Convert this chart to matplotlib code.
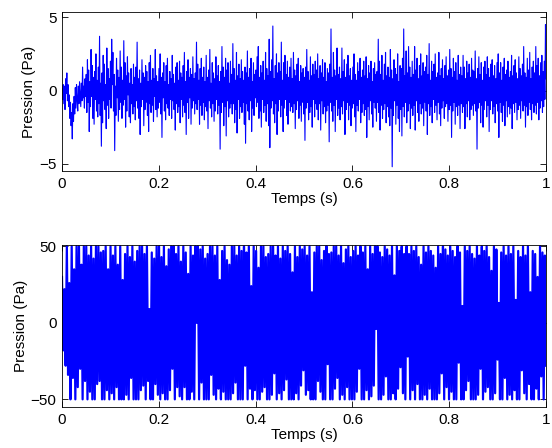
import numpy as np
import matplotlib
matplotlib.use("Agg")
import matplotlib.pyplot as plt

plt.rcParams['font.family'] = ['Liberation Sans', 'DejaVu Sans']

p_top = [
    0.1, -0.6, 0.4, -0.9, 0.3, -1.3, 0.8, -0.2, 1.2, -0.7, 0.4, -1.1, -0.3, -1.9, -0.8, -2.4, -1.5, -3.3, -0.9, -2.1,
    -0.4, -1.6, 0.2, -1.2, 0.4, -0.6, -1.4, 0.3, -0.9, 0.6, -0.3, -1.1, 0.5, -0.7, 1.6, -0.5, 0.3, -1.2, 0.8, -0.4,
    1.1, -1.5, 2.1, -0.8, 1.4, -2.8, 0.6, -1.1, 2.8, -0.4, 1.7, -1.9, 0.9, -2.3, 1.3, -0.6, 2.5, -1.4, 0.7, -1.8,
    1.6, -0.9, 3.7, -1.7, 0.5, -3.8, 1.2, -2.2, 2.4, -0.7, 1.8, -1.3, 0.4, -2.6, 2.9, -1.0, 1.5, -1.9, 0.8, -0.6,
    2.0, -1.2, 3.5, 0.4, 2.6, -1.4, 1.1, -4.1, 0.3, -1.7, 2.2, -0.5, 1.4, -2.1, 0.9, -1.3, 2.7, -0.8, 1.6, -1.9,
    0.7, -1.0, 3.4, -0.6, 1.9, -2.5, 1.0, -1.4, 2.3, -0.3, 1.2, -1.8, 0.5, -2.2, 1.5, -0.9, 0.4, -1.6, 1.8, -1.1,
    0.9, -2.0, 1.6, -0.7, 3.3, -1.2, 0.8, -1.9, 1.4, -3.0, 0.5, -1.1, 2.1, -0.6, 1.2, -2.4, 0.9, -1.3, 1.7, -0.8,
    1.3, -1.7, 0.6, -2.8, 1.9, -0.9, 2.4, -1.5, 0.7, -1.0, 1.5, -2.1, 0.8, -0.4, 2.8, -1.3, 1.0, -1.8, 0.6, -1.2,
    1.5, -0.8, 2.5, -1.6, 0.9, -3.2, 1.2, -0.5, 1.9, -1.4, 0.6, -2.0, 1.7, -0.9, 2.2, -1.2, 0.4, -1.7, 1.3, -0.6,
    0.8, -1.9, 2.4, -0.7, 1.1, -1.3, 0.5, -2.7, 1.6, -0.9, 1.9, -1.5, 0.7, -1.1, 2.0, -2.2, 1.2, -0.6, 0.9, -1.8,
    1.7, -1.0, 2.6, -1.5, 0.6, -3.0, 1.3, -0.8, 2.1, -1.9, 0.9, -0.5, 1.5, -2.3, 1.1, -1.2, 2.3, -0.7, 0.8, -1.6,
    1.2, -0.9, 3.3, -1.3, 1.8, -0.6, 0.7, -2.3, 1.5, -1.0, 2.2, -1.7, 0.9, -0.8, 1.6, -2.0, 0.6, -1.1, 2.4, -1.4,
    0.9, -2.6, 1.4, -0.7, 2.8, -1.2, 0.5, -1.8, 1.9, -0.9, 1.2, -2.1, 0.8, -1.4, 2.3, -0.6, 1.0, -1.6, 1.7, -1.0,
    0.6, -4.0, 1.3, -1.5, 3.0, -0.8, 1.6, -2.4, 0.9, -1.1, 2.2, -3.1, 1.4, -0.7, 1.9, -1.8, 0.5, -1.2, 2.0, -0.9,
    1.1, -1.6, 3.2, -0.9, 1.5, -2.2, 0.7, -1.3, 2.6, -2.9, 1.0, -0.6, 1.8, -1.9, 0.8, -1.1, 2.1, -1.5, 1.3, -0.8,
    0.7, -2.3, 1.6, -3.6, 1.2, -0.9, 2.7, -1.4, 0.9, -2.0, 1.5, -0.7, 2.2, -2.8, 0.6, -1.2, 1.9, -1.7, 1.1, -0.5,
    1.4, -1.1, 2.3, -0.8, 3.0, -1.9, 0.9, -1.4, 1.7, -2.5, 1.2, -0.6, 2.0, -1.5, 0.7, -1.0, 2.6, -2.1, 1.5, -0.9,
    1.0, -2.4, 3.5, -3.9, 1.3, -1.2, 2.1, -0.7, 4.4, -1.6, 0.8, -2.2, 1.7, -0.9, 2.5, -3.0, 1.2, -1.4, 1.9, -0.6,
    1.3, -1.8, 3.3, -1.0, 0.7, -2.8, 1.9, -1.2, 2.4, -0.6, 1.1, -1.7, 2.0, -2.3, 0.9, -0.8, 1.6, -1.4, 2.2, -1.1,
    0.8, -1.5, 2.6, -0.9, 1.4, -2.6, 1.0, -1.3, 1.8, -0.7, 2.2, -1.9, 0.6, -1.0, 1.7, -2.1, 1.2, -0.8, 1.5, -1.6,
    0.9, -3.4, 1.6, -1.2, 2.8, -0.8, 1.3, -2.0, 0.7, -1.5, 2.3, -1.1, 1.0, -2.5, 1.8, -0.6, 1.1, -1.8, 2.0, -0.9,
    1.4, -1.3, 2.5, -2.0, 0.8, -0.9, 1.7, -2.7, 1.2, -0.7, 2.1, -1.6, 0.9, -1.1, 1.9, -2.2, 0.6, -1.4, 1.5, -1.0,
    1.2, -3.5, 1.8, -0.8, 4.2, -1.4, 0.9, -2.1, 2.6, -1.0, 1.4, -2.8, 1.0, -0.6, 2.9, -1.7, 1.1, -1.2, 1.6, -2.0,
    0.8, -1.1, 2.9, -1.6, 1.3, -0.7, 2.1, -3.0, 0.9, -1.3, 1.8, -0.8, 2.4, -2.0, 1.0, -1.0, 1.5, -2.4, 0.7, -1.2,
    1.6, -0.9, 2.5, -1.8, 1.1, -2.8, 0.7, -1.0, 1.9, -1.4, 1.3, -0.6, 2.2, -2.2, 0.9, -1.5, 1.4, -0.9, 2.0, -1.7,
    1.0, -1.3, 2.3, -3.2, 0.8, -1.1, 1.7, -2.0, 1.2, -0.7, 2.0, -1.6, 0.6, -2.5, 1.5, -0.8, 1.9, -1.2, 1.1, -2.1,
    1.3, -0.8, 3.5, -1.5, 2.0, -2.7, 1.1, -1.0, 2.4, -1.9, 0.7, -1.3, 1.8, -0.9, 2.6, -2.2, 1.0, -1.1, 1.6, -1.8,
    0.9, -2.4, 2.8, -1.2, 1.4, -5.2, 0.8, -1.7, 2.1, -0.7, 1.5, -2.3, 1.1, -1.0, 2.5, -1.9, 0.6, -2.8, 1.7, -1.3,
    1.5, -3.1, 2.2, -1.1, 4.2, -1.8, 1.0, -0.8, 2.7, -2.2, 1.2, -1.4, 3.0, -0.9, 1.6, -2.6, 0.9, -1.2, 2.0, -1.7,
    1.1, -1.0, 3.0, -2.7, 1.4, -0.7, 2.2, -1.5, 0.8, -2.1, 1.7, -0.9, 2.5, -1.6, 1.0, -1.2, 1.9, -2.4, 1.3, -0.8,
    1.6, -1.4, 2.4, -3.0, 1.1, -0.9, 3.2, -1.7, 0.7, -1.1, 2.0, -2.2, 1.3, -0.6, 1.8, -1.5, 2.5, -1.0, 0.9, -2.0,
    1.2, -0.8, 2.6, -1.6, 1.0, -2.4, 1.5, -1.2, 2.1, -0.7, 0.8, -1.9, 1.7, -1.1, 2.3, -0.9, 1.0, -2.1, 1.4, -1.3,
    2.8, -1.0, 1.5, -3.2, 0.9, -1.4, 2.2, -0.8, 1.3, -2.3, 1.9, -1.1, 0.7, -1.7, 2.4, -1.0, 1.1, -2.6, 1.6, -0.9,
    1.0, -1.5, 2.4, -1.1, 1.6, -2.6, 0.8, -0.9, 2.0, -1.8, 1.2, -0.7, 1.8, -2.0, 0.9, -1.3, 2.2, -1.0, 1.4, -1.7,
    1.3, -0.9, 2.7, -1.4, 0.8, -4.0, 1.5, -1.2, 2.3, -0.8, 1.1, -2.2, 1.9, -1.0, 0.7, -2.5, 1.6, -1.3, 2.0, -0.7,
    1.1, -1.8, 2.3, -1.0, 1.5, -2.8, 0.9, -1.3, 1.8, -0.7, 2.1, -1.6, 1.0, -1.1, 1.7, -2.2, 0.8, -0.9, 1.9, -1.4,
    2.5, -3.2, 1.2, -0.8, 1.9, -1.5, 0.7, -2.1, 1.6, -1.0, 2.2, -2.4, 1.1, -0.7, 1.4, -1.8, 2.0, -1.1, 0.9, -1.6,
    1.3, -1.2, 2.4, -2.6, 1.0, -0.9, 1.7, -1.5, 2.1, -0.8, 1.2, -2.0, 0.8, -1.3, 2.3, -1.0, 1.5, -1.9, 1.0, -0.7,
    1.8, -1.4, 3.0, -1.0, 1.2, -2.5, 0.9, -1.1, 2.2, -1.7, 1.4, -0.8, 2.6, -1.3, 0.8, -2.0, 1.6, -0.9, 2.0, -1.5,
    1.2, -1.0, 3.0, -1.6, 1.7, -0.8, 2.2, -2.0, 1.0, -1.2, 1.9, -0.7, 2.4, -1.5, 1.3, -1.1, 2.0, -0.6, 4.5, 0.8,
]

# signal sature a +/-50 Pa (bas), 20 valeurs par tranche de 0.05 s
p_bot = [
    30, -18, 22, -28, 50, -34, 26, -50, 50, -36, 35, -50, 50, -42, 50, -30, 38, -50, 50, -38,
    50, -50, 44, -45, 50, -50, 42, -50, 50, -40, 50, -38, 46, -50, 47, -50, 50, -44, 35, -50,
    50, -46, 44, -50, 50, -42, 38, -50, 50, -50, 28, -50, 45, -47, 50, -50, 43, -36, 50, -50,
    40, -50, 47, -50, 50, -44, 50, -41, 45, -50, 50, -38, 9, -50, 46, -50, 42, -40, 50, -47,
    50, -50, 43, -46, 50, -50, 37, -50, 48, -44, 50, -30, 50, -50, 45, -42, 50, -48, 40, -50,
    50, -42, 46, -50, 32, -50, 50, -45, 44, -50, 50, 0, 50, -50, 48, -39, 50, -50, 42, -50,
    45, -50, 50, -34, 50, -47, 44, -50, 50, -43, 28, -50, 47, -45, 50, -50, 41, -50, 38, -50,
    50, -46, 50, -39, 44, -50, 50, -50, 47, -50, 50, -28, 46, -50, 50, -43, 24, -50, 50, -44,
    47, -50, 36, -50, 50, -45, 50, -42, 43, -50, 45, -50, 50, -47, 50, -33, 44, -50, 50, -46,
    42, -50, 50, -44, 47, -37, 50, -50, 45, -50, 33, -50, 50, -46, 43, -50, 50, -41, 48, -31,
    50, -47, 44, -44, 50, -50, 20, -50, 46, -50, 50, -38, 50, -45, 41, -50, 47, -50, 50, -27,
    45, -50, 46, -50, 50, -43, 50, -36, 44, -50, 50, -47, 39, -50, 48, -42, 50, -50, 43, -50,
    47, -50, 50, -45, 44, -30, 50, -50, 46, -50, 50, -44, 35, -50, 50, -48, 45, -41, 50, -4,
    50, -50, 46, -50, 43, -47, 50, -35, 48, -50, 44, -50, 50, -46, 31, -50, 50, -43, 47, -29,
    50, -46, 45, -50, 50, -22, 45, -50, 50, -44, 47, -50, 50, -40, 43, -50, 38, -50, 50, -47,
    46, -50, 50, -43, 47, -50, 44, -50, 36, -50, 50, -46, 45, -33, 50, -50, 48, -42, 44, -50,
    50, -45, 47, -50, 43, -50, 50, -26, 46, -50, 11, -50, 50, -44, 47, -38, 50, -50, 45, -50,
    42, -50, 50, -47, 44, -30, 50, -50, 47, -45, 50, -42, 43, -50, 34, -50, 50, -46, 48, -24,
    13, -50, 46, -50, 50, -36, 44, -50, 50, -47, 45, -50, 50, -44, 15, -50, 47, -50, 43, -31,
    50, -46, 44, -50, 50, -40, 20, -50, 47, -50, 45, -43, 30, -50, 50, -35, 46, -50, 44, -28,
]

t_top = np.linspace(0, 1, len(p_top))
t_bot = np.linspace(0, 1, len(p_bot))

fig = plt.figure(figsize=(5.52, 4.48), dpi=100)
ax1 = fig.add_axes([0.1123, 0.618, 0.877, 0.355])
ax2 = fig.add_axes([0.1123, 0.0915, 0.877, 0.362])

ax1.plot(t_top, p_top, color=(0, 0, 1), lw=0.8)
ax1.set_ylim(-5.5, 5.35)
ax1.set_yticks([-5, 0, 5])

ax2.plot(t_bot, p_bot, color=(0, 0, 1), lw=1.6)
ax2.set_ylim(-55, 51)
ax2.set_yticks([-50, 0, 50])

for ax in (ax1, ax2):
    ax.set_xlim(0, 1)
    ax.set_xticks([0, 0.2, 0.4, 0.6, 0.8, 1])
    ax.set_xticklabels(['0', '0.2', '0.4', '0.6', '0.8', '1'])
    ax.tick_params(direction='in', top=True, right=True, length=4, width=0.6,
                   labelsize=11, pad=4)
    ax.set_xlabel('Temps (s)', fontsize=11, labelpad=1)
    ax.set_ylabel('Pression (Pa)', fontsize=11, labelpad=2)
    for s in ax.spines.values():
        s.set_linewidth(0.6)

fig.savefig('out.png', dpi=100)
